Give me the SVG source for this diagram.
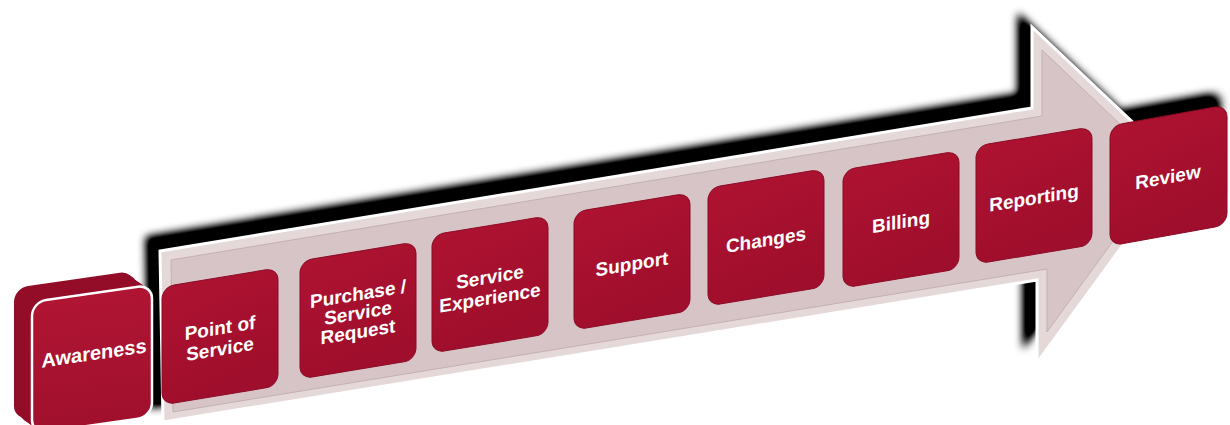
<svg xmlns="http://www.w3.org/2000/svg" width="1230" height="425" viewBox="0 0 1230 425">
<defs>
<filter id="blur" x="-10%" y="-30%" width="120%" height="160%"><feGaussianBlur stdDeviation="4.5"/><feComponentTransfer><feFuncA type="linear" slope="1.4"/></feComponentTransfer></filter>
<linearGradient id="boxg" x1="0" y1="0" x2="0.3" y2="1"><stop offset="0" stop-color="#AE1331"/><stop offset="1" stop-color="#9F0E2C"/></linearGradient>
<linearGradient id="frontg" x1="0" y1="0" x2="0" y2="1"><stop offset="0" stop-color="#B01533"/><stop offset="1" stop-color="#A0102D"/></linearGradient>
</defs>
<style>
.box{fill:url(#boxg);stroke:#8C0A25;stroke-width:1}
.lbl{font-family:"Liberation Sans",Arial,sans-serif;font-weight:bold;font-size:19px;fill:#ffffff;text-anchor:middle}
.ext{fill:#930C28}
</style>
<g id="shadows">
<polygon points="146,237 1018,94 1018,13 1166,153 1023,349 1023,266 149,408" fill="#000" filter="url(#blur)"/>
<rect x="4" y="0" width="106" height="110" rx="12" fill="#000" filter="url(#blur)" transform="matrix(1,-0.18,0,1,1110,112)"/>
</g>
<g id="arrow">
<polygon points="160,251 1032,108 1032,27 1180,167 1037,363 1037,280 163,422" fill="#E4D8D9" stroke="#ffffff" stroke-width="3" stroke-linejoin="miter"/>
<polygon points="171,260 1042,116 1042,50 1166,168 1047,332 1047,269 173,412" fill="#D7C4C6" stroke="#C5AFB2" stroke-width="1"/>
</g>
<g id="connectors"></g>
<g id="awareness">
<g class="ext">
<rect x="0" y="0" width="120" height="132" rx="14" transform="matrix(1,-0.145,0,1,14,288)"/>
<rect x="0" y="0" width="120" height="132" rx="14" transform="matrix(1,-0.145,0,1,17,290)"/>
<rect x="0" y="0" width="120" height="132" rx="14" transform="matrix(1,-0.145,0,1,20,293)"/>
<rect x="0" y="0" width="120" height="132" rx="14" transform="matrix(1,-0.145,0,1,23,295)"/>
<rect x="0" y="0" width="120" height="132" rx="14" transform="matrix(1,-0.145,0,1,26,297)"/>
<rect x="0" y="0" width="120" height="132" rx="14" transform="matrix(1,-0.145,0,1,29,300)"/>
</g>
<g transform="matrix(1,-0.145,0,1,32,302)">
<rect x="0" y="0" width="120" height="132" rx="14" fill="url(#frontg)" stroke="#ffffff" stroke-width="2.5"/>
<text class="lbl" x="62" y="67" style="font-size:20px">Awareness</text>
</g>
</g>
<g id="point-of-service" transform="matrix(1,-0.165,0,1,162,287)">
<rect class="box" x="0" y="0" width="116" height="118" rx="12"/>
<text class="lbl" x="58" y="57">Point of</text>
<text class="lbl" x="58" y="78">Service</text>
</g>
<g id="purchase" transform="matrix(1,-0.165,0,1,300,261)">
<rect class="box" x="0" y="0" width="116" height="118" rx="12"/>
<text class="lbl" x="58" y="49">Purchase /</text>
<text class="lbl" x="58" y="68">Service</text>
<text class="lbl" x="58" y="87">Request</text>
</g>
<g id="service-experience" transform="matrix(1,-0.165,0,1,432,235)">
<rect class="box" x="0" y="0" width="116" height="118" rx="12"/>
<text class="lbl" x="58" y="58">Service</text>
<text class="lbl" x="58" y="79">Experience</text>
</g>
<g id="support" transform="matrix(1,-0.165,0,1,574,212)">
<rect class="box" x="0" y="0" width="116" height="118" rx="12"/>
<text class="lbl" x="58" y="68">Support</text>
</g>
<g id="changes" transform="matrix(1,-0.165,0,1,708,188)">
<rect class="box" x="0" y="0" width="116" height="118" rx="12"/>
<text class="lbl" x="58" y="68">Changes</text>
</g>
<g id="billing" transform="matrix(1,-0.165,0,1,843,170)">
<rect class="box" x="0" y="0" width="116" height="118" rx="12"/>
<text class="lbl" x="58" y="68">Billing</text>
</g>
<g id="reporting" transform="matrix(1,-0.165,0,1,976,146)">
<rect class="box" x="0" y="0" width="116" height="118" rx="12"/>
<text class="lbl" x="58" y="68">Reporting</text>
</g>
<g id="review" transform="matrix(1,-0.18,0,1,1110,126)">
<rect class="box" x="0" y="0" width="117" height="120" rx="12"/>
<text class="lbl" x="58" y="68">Review</text>
</g>
</svg>
